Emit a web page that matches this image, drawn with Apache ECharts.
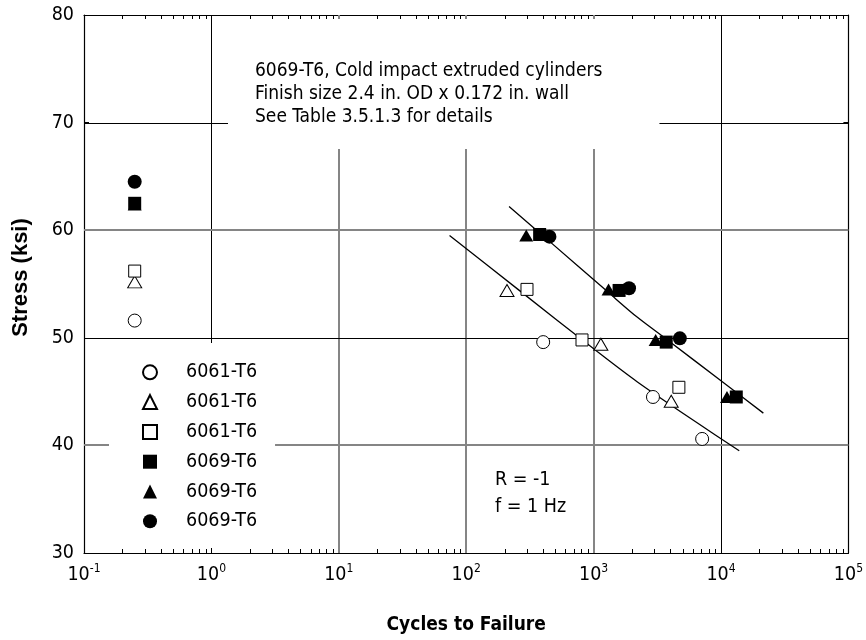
<!DOCTYPE html>
<html>
<head>
<meta charset="utf-8">
<script src="https://cdn.jsdelivr.net/npm/echarts@6/dist/echarts.min.js"></script>
<style>
  html, body { margin: 0; padding: 0; background: #fff; }
  #chart { width: 866px; height: 640px; }
</style>
</head>
<body>
<div id="chart"></div>
<script>
// Fonts
const NARROW = "'Liberation Sans Narrow', 'Arial Narrow', 'DejaVu Sans Condensed', sans-serif";
const WIDE = "'Liberation Sans', Arial, Helvetica, sans-serif";
const FS = 19.5;

// Axis ranges and tick labels
const X_MIN = 0.1, X_MAX = 1e5;
const Y_MIN = 30, Y_MAX = 80, Y_STEP = 10;
const X_GRID = [1, 10, 100, 1000, 10000];
const X_GRID_TONE = [1, 0, 0, 0, 1];      // 1 = dark rule, 0 = light rule
const Y_GRID = [40, 50, 60, 70];
const Y_GRID_TONE = [0, 1, 0, 1];
const DECADES = [0.1, 1, 10, 100, 1000, 10000];
const MINOR_MULTIPLIERS = [2, 3, 4, 5, 6, 7, 8, 9];

// Fatigue results: [cycles to failure, maximum stress ksi]
const open_circle_6061 = [[0.25, 51.6], [402, 49.6], [2924, 44.5], [7110, 40.6]];
const open_triangle_6061 = [[0.25, 55.2], [209, 54.4], [1140, 49.4], [4066, 44.1]];
const open_square_6061 = [[0.25, 56.2], [300, 54.5], [811, 49.8], [4670, 45.4]];
const filled_square_6069 = [[0.25, 62.5], [377, 59.6], [1585, 54.4], [3715, 49.6], [13180, 44.5]];
const filled_triangle_6069 = [[0.25, 62.4], [296, 59.5], [1310, 54.5], [3069, 49.8], [11140, 44.5]];
const filled_circle_6069 = [[0.25, 64.5], [450, 59.4], [1897, 54.6], [4753, 49.95]];

// Best-fit curves
const fit_6061 = [[74, 59.5], [255, 54.5], [1074, 48.7], [2208, 45.9], [6494, 42.1], [13900, 39.5]];
const fit_6069 = [[217, 62.2], [437, 59.1], [1310, 54.2], [2208, 51.9], [3800, 49.8], [10000, 46.0], [21500, 43.0]];

const ANNOTATION = [
  '6069-T6, Cold impact extruded cylinders',
  'Finish size 2.4 in. OD x 0.172 in. wall',
  'See Table 3.5.1.3 for details'
];
const TEST_NOTE = ['R = -1', 'f = 1 Hz'];

const minorTicks = [];
DECADES.forEach(d => MINOR_MULTIPLIERS.forEach(m => minorTicks.push([d * m, Y_MIN])));

const chart = echarts.init(document.getElementById('chart'), null, { renderer: 'canvas' });

function crisp(v, w) { return w % 2 === 1 ? Math.round(v) + 0.5 : Math.round(v); }

function renderVGrid(params, api) {
  const x = api.value(0);
  const dark = api.value(2) === 1;
  const w = dark ? 1 : 2;
  const p0 = api.coord([x, Y_MIN]);
  const p1 = api.coord([x, Y_MAX]);
  const px = crisp(p0[0], w);
  return {
    type: 'line',
    shape: { x1: px, y1: p0[1], x2: px, y2: p1[1] },
    style: { stroke: dark ? '#000' : '#858585', lineWidth: w }
  };
}

function renderHGrid(params, api) {
  const y = api.value(1);
  const dark = api.value(2) === 1;
  const w = dark ? 1 : 2;
  const p0 = api.coord([X_MIN, y]);
  const p1 = api.coord([X_MAX, y]);
  const py = crisp(p0[1], w);
  return {
    type: 'line',
    shape: { x1: p0[0], y1: py, x2: p1[0], y2: py },
    style: { stroke: dark ? '#000' : '#858585', lineWidth: w }
  };
}

function renderMinor(params, api) {
  const x = api.value(0);
  const pb = api.coord([x, Y_MIN]);
  const pt = api.coord([x, Y_MAX]);
  const px = Math.round(pb[0]) + 0.5;
  return {
    type: 'group',
    children: [
      { type: 'line', shape: { x1: px, y1: pb[1], x2: px, y2: pb[1] - 4 }, style: { stroke: '#000', lineWidth: 1 } },
      { type: 'line', shape: { x1: px, y1: pt[1], x2: px, y2: pt[1] + 4 }, style: { stroke: '#000', lineWidth: 1 } }
    ]
  };
}

const openStyle = { color: '#fff', borderColor: '#000', borderWidth: 1, opacity: 1 };
const filledStyle = { color: '#000', borderColor: '#000', borderWidth: 0, opacity: 1 };

function scatter(name, data, symbol, size, style, z) {
  return {
    name, type: 'scatter', data, symbol, symbolSize: size,
    itemStyle: style, z: z || 3, silent: true,
    emphasis: { disabled: true }
  };
}

const seriesNames = [
  '6061-T6 circle', '6061-T6 triangle', '6061-T6 square',
  '6069-T6 square', '6069-T6 triangle', '6069-T6 circle'
];

const option = {
  animation: false,
  backgroundColor: '#fff',
  textStyle: { fontFamily: NARROW },
  grid: { left: 84, right: 14, top: 15, bottom: 87, containLabel: false },
  title: {
    text: ANNOTATION.join('\n'),
    left: 228, top: 19,
    padding: [40, 57, 20, 27],
    backgroundColor: '#fff',
    textStyle: { fontSize: 19, fontWeight: 'normal', fontFamily: NARROW, color: '#000', lineHeight: 23.3 }
  },
  legend: {
    data: seriesNames,
    orient: 'vertical',
    left: 109, top: 343,
    padding: [19.3, 18, 16.7, 33],
    backgroundColor: '#fff',
    itemWidth: 14, itemHeight: 14, itemGap: 9.8,
    selectedMode: false,
    formatter: name => '{g|}{t|' + name.split(' ')[0] + '}',
    textStyle: {
      fontSize: FS, fontFamily: NARROW, color: '#000', lineHeight: 20,
      rich: {
        g: { width: 24, lineHeight: 20 },
        t: { fontSize: FS, fontFamily: NARROW, color: '#000', lineHeight: 20 }
      }
    }
  },
  xAxis: [
    {
      type: 'log', logBase: 10, min: X_MIN, max: X_MAX, splitNumber: 6,
      position: 'bottom',
      name: 'Cycles to Failure', nameLocation: 'middle', nameGap: 63,
      nameTextStyle: { fontSize: 19, fontWeight: 'bold', fontFamily: NARROW, color: '#000' },
      axisLine: { show: true, lineStyle: { color: '#000', width: 1.2 } },
      axisTick: { show: true, inside: true, length: 5, lineStyle: { color: '#000' } },
      splitLine: { show: false },
      axisLabel: {
        margin: 10,
        formatter: v => '{b|10}{s|' + Math.round(Math.log10(v)) + '}',
        rich: {
          b: { fontSize: FS, fontFamily: NARROW, color: '#000', lineHeight: 24 },
          s: { fontSize: 12, fontFamily: NARROW, color: '#000', verticalAlign: 'top', lineHeight: 16 }
        }
      }
    },
    {
      type: 'log', logBase: 10, min: X_MIN, max: X_MAX, splitNumber: 6,
      position: 'top',
      axisLine: { show: true, lineStyle: { color: '#000', width: 1.2 } },
      axisTick: { show: true, inside: true, length: 5, lineStyle: { color: '#000' } },
      axisLabel: { show: false },
      splitLine: { show: false }
    }
  ],
  yAxis: [
    {
      type: 'value', min: Y_MIN, max: Y_MAX, interval: Y_STEP,
      position: 'left',
      axisLine: { show: true, lineStyle: { color: '#000', width: 1.2 } },
      axisTick: { show: true, inside: true, length: 5, lineStyle: { color: '#000' } },
      splitLine: { show: false },
      axisLabel: { margin: 10, fontSize: FS, fontFamily: NARROW, color: '#000' }
    },
    {
      type: 'value', min: Y_MIN, max: Y_MAX, interval: Y_STEP,
      position: 'right',
      axisLine: { show: true, lineStyle: { color: '#000', width: 1.2 } },
      axisTick: { show: true, inside: true, length: 5, lineStyle: { color: '#000' } },
      axisLabel: { show: false },
      splitLine: { show: false }
    }
  ],
  graphic: [
    {
      type: 'text', x: 21, y: 277.5, rotation: Math.PI / 2, z: 10,
      style: { text: 'Stress (ksi)', fontSize: 22, fontWeight: 'bold', fontFamily: WIDE, fill: '#000', align: 'center', verticalAlign: 'middle' }
    }
  ].concat(TEST_NOTE.map((t, i) => ({
    type: 'text', x: 495, y: 479.7 + i * 27, z: 10,
    style: { text: t, fontSize: FS, fontFamily: NARROW, fill: '#000', verticalAlign: 'middle', align: 'left' }
  }))),
  series: [
    {
      type: 'custom', name: 'vgrid', z: 1, silent: true, clip: false,
      renderItem: renderVGrid,
      data: X_GRID.map((x, i) => [x, Y_MIN, X_GRID_TONE[i]])
    },
    {
      type: 'custom', name: 'hgrid', z: 1, silent: true, clip: false,
      renderItem: renderHGrid,
      data: Y_GRID.map((y, i) => [X_MIN, y, Y_GRID_TONE[i]])
    },
    {
      type: 'custom', name: 'minor', z: 1, silent: true, clip: false,
      renderItem: renderMinor,
      data: minorTicks
    },
    {
      type: 'line', name: 'fit6061', data: fit_6061, smooth: 0.3, symbol: 'none',
      lineStyle: { color: '#000', width: 1.3 }, z: 2, silent: true
    },
    {
      type: 'line', name: 'fit6069', data: fit_6069, smooth: 0.3, symbol: 'none',
      lineStyle: { color: '#000', width: 1.3 }, z: 2, silent: true
    },
    scatter(seriesNames[0], open_circle_6061, 'circle', 13, openStyle),
    scatter(seriesNames[1], open_triangle_6061, 'triangle', [14, 12], openStyle),
    scatter(seriesNames[2], open_square_6061, 'rect', 12, openStyle),
    scatter(seriesNames[3], filled_square_6069, 'rect', 13, filledStyle),
    scatter(seriesNames[4], filled_triangle_6069, 'triangle', [14, 12], filledStyle, 2.5),
    scatter(seriesNames[5], filled_circle_6069, 'circle', 14, filledStyle)
  ]
};

chart.setOption(option);
</script>
</body>
</html>
